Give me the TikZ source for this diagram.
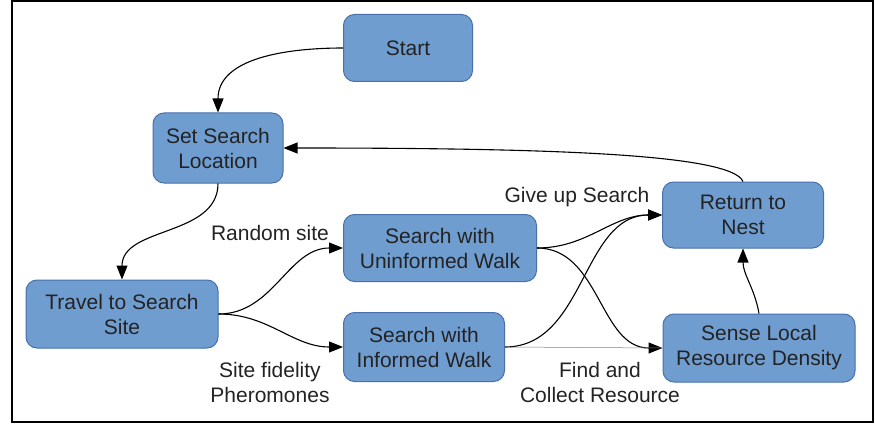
\documentclass[tikz,border=0pt]{standalone}
\usepackage{fontspec}
\setmainfont{Liberation Sans}
\usetikzlibrary{arrows.meta}
\definecolor{boxfill}{RGB}{112,157,208}
\definecolor{boxline}{RGB}{72,112,172}
\definecolor{inkgray}{RGB}{35,35,35}
\tikzset{>={Triangle[length=14pt,width=11pt]}}
\tikzset{
  state/.style={
    draw=boxline, fill=boxfill, line width=1pt,
    rounded corners=11pt, align=center, inner sep=0pt,
    text=inkgray, font=\fontsize{21}{25}\selectfont
  },
  flow/.style={->, line width=1.1pt, black},
  tag/.style={align=center, inner sep=0pt, text=inkgray,
    font=\fontsize{21}{25}\selectfont}
}

\begin{document}
\begin{tikzpicture}[x=1pt,y=-1pt]
    \useasboundingbox (0,0) rectangle (875,425);
    \draw[line width=2pt] (12,1.5) rectangle (873,421.5);
    % states
    \node[state,minimum width=129pt,minimum height=67pt] (start) at (408,48) {Start};
    \node[state,minimum width=130pt,minimum height=70pt] (setloc) at (218,148) {Set Search\\Location};
    \node[state,minimum width=192pt,minimum height=68pt] (travel) at (122,314) {Travel to Search\\Site};
    \node[state,minimum width=193pt,minimum height=67pt] (uninf) at (440,248) {Search with\\Uninformed Walk};
    \node[state,minimum width=161pt,minimum height=69pt] (inf) at (424,347) {Search with\\Informed Walk};
    \node[state,minimum width=161pt,minimum height=66pt] (nest) at (743,215) {Return to\\Nest};
    \node[state,minimum width=192pt,minimum height=68pt] (sense) at (759,348) {Sense Local\\Resource Density};
    % labels
    \node[tag] (random) at (270,233) {Random site};
    \node[tag] (fidelity) at (270,382) {Site fidelity\\Pheromones};
    \node[tag] (giveup) at (577,197) {Give up Search};
    \node[tag] (collect) at (600,382) {Find and\\Collect Resource};
    % transitions
    \draw[flow] (start.west) to[out=180,in=90] (setloc.north);
    \draw[flow] (nest.north) .. controls +(-12,-28) and +(260,0) .. (setloc.east);
    \draw[flow] (setloc.south) to[out=-90,in=90] (travel.north);
    \draw[flow] (travel.east) to[out=0,in=180] (uninf.west);
    \draw[flow] (travel.east) to[out=0,in=180] (inf.west);
    \draw[flow] (uninf.east) to[out=0,in=180] (nest.west);
    \draw[flow] (uninf.east) to[out=0,in=180] (sense.west);
    \draw[flow] (inf.east) to[out=0,in=180] (nest.west);
    \draw[line width=0.5pt,gray] (inf.east) -- (sense.west);
    \draw[flow] (sense.north) to[out=100,in=-90] (nest.south);
\end{tikzpicture}
\end{document}
